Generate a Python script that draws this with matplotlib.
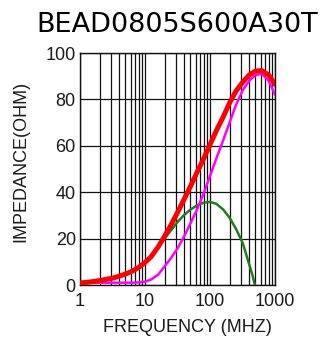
import matplotlib
matplotlib.use("Agg")
import matplotlib.pyplot as plt

# impedance curves (MHz, ohm)
z_freq = [1, 1.25, 1.6, 2, 2.5, 3.2, 4, 5, 6.3, 8, 10, 12.5, 16, 20, 25, 32,
          40, 50, 63, 80, 100, 125, 160, 200, 250, 320, 400, 500, 630, 800,
          1000]
z_ohm = [0.9, 1.1, 1.5, 1.9, 2.4, 3.0, 3.8, 4.7, 5.9, 7.6, 9.7, 12.3, 16.5,
         21, 25.8, 31.5, 37, 42.5, 48.5, 54.5, 60.5, 66.5, 72.5, 78.5, 83.5,
         87.5, 90.5, 92.2, 92.4, 90.5, 86.5]

r_freq = [1, 2, 4, 6.3, 8, 10, 12.5, 16, 20, 25, 32, 40, 50, 63, 80, 100,
          125, 160, 200, 250, 320, 400, 500, 630, 800, 1000]
r_ohm = [1, 1, 1, 1, 1.1, 1.4, 2.4, 4.5, 8, 11.5, 16, 21, 26.5, 32.5, 39.5,
         47, 54.5, 62.5, 70, 77.5, 84, 88, 90.5, 91, 88, 82]

x_freq = [1, 2, 4, 6.3, 10, 12.5, 16, 20, 25, 32, 40, 50, 63, 80, 100, 125,
          160, 200, 250, 320, 400, 450, 490]
x_ohm = [0.9, 1.9, 3.8, 5.9, 9.7, 12.3, 16.3, 20, 23.5, 27.3, 30.2, 32.5,
         34.3, 35.5, 35.8, 35, 32.5, 29, 24.3, 18, 9, 4.2, 0]

x_ticks = [1, 10, 100, 1000]
x_tick_labels = ["1", "10", "100", "1000"]
y_ticks = [0, 20, 40, 60, 80, 100]

fig = plt.figure(figsize=(3.23, 3.38), dpi=100)
ax = fig.add_axes([80 / 323, 53 / 338, 195 / 323, 232 / 338])

ax.plot(x_freq, x_ohm, color="#1f7d1f", lw=1.8, solid_capstyle="round", zorder=3)
ax.plot(r_freq, r_ohm, color="#ff00ff", lw=1.8, solid_capstyle="round", zorder=4)
ax.plot(z_freq, z_ohm, color="#ff0000", lw=3.6, solid_capstyle="round", zorder=5)

ax.set_xscale("log")
ax.set_xlim(1, 1000)
ax.set_ylim(0, 100)
ax.set_xticks(x_ticks)
ax.set_xticklabels(x_tick_labels)
ax.set_yticks(y_ticks)
ax.grid(True, which="both", axis="x", color="#111111", lw=0.9)
ax.grid(True, which="major", axis="y", color="#111111", lw=0.9)
ax.set_axisbelow(True)
for s in ax.spines.values():
    s.set_color("#111111")
    s.set_linewidth(1.0)

ax.tick_params(axis="both", which="both", length=0, labelsize=13,
               labelcolor="#1a1a1a")
ax.tick_params(axis="y", pad=3)
ax.tick_params(axis="x", pad=5.5)
for lab in ax.get_xticklabels() + ax.get_yticklabels():
    lab.set_family("Liberation Sans")

ax.set_title("BEAD0805S600A30T", fontsize=19.5, family="DejaVu Sans", pad=15)

fig.text(187 / 323, 6 / 338, "FREQUENCY (MHZ)", ha="center", va="baseline",
         fontsize=13, family="Liberation Sans", color="#1a1a1a")
fig.text(21 / 323, 1 - 161.5 / 338, "IMPEDANCE(OHM)", ha="center", va="center",
         rotation=90, fontsize=13, family="Liberation Sans", color="#1a1a1a")

fig.savefig("out.png", dpi=100)
